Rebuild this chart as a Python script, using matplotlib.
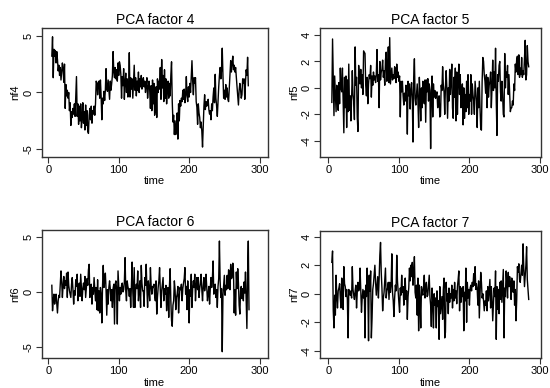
import matplotlib
matplotlib.use("Agg")
import numpy as np
import matplotlib.pyplot as plt

plt.rcParams['font.family'] = ['Liberation Sans', 'DejaVu Sans']
plt.rcParams['axes.unicode_minus'] = False

# series start at time 5, one value per period
nf4 = [3.2, 4.9, 1.3, 3.8, 3.2, 3.7, 2.6, 3.6, 2.9, 1.9,
       2.4, 1.5, 2.2, 1.1, 1.8, 2.6, 2.0, 0.9, 2.5, -1.4,
       0.7, -0.3, 0.2, -0.5, 0.0, -1.6, -0.9, -2.9, -1.7, -2.2,
       -1.4, -1.9, -1.0, -2.1, -0.3, 1.4, -2.1, -1.0, -2.8, -1.2,
       -2.5, -1.0, -3.1, -2.3, -0.9, -2.7, -1.7, -3.3, -1.1, -2.9,
       -1.6, -3.4, -3.6, -2.0, -1.4, -2.4, -1.2, -2.7, -1.6, -1.9,
       -1.2, -2.0, -1.0, 1.0, 0.8, -0.2, 0.9, 1.0, -0.5, 1.1,
       -0.3, -2.4, -0.5, -1.0, 0.1, -0.7, 0.2, 2.1, 0.3, 0.1,
       1.1, 0.3, -0.6, 1.0, 0.2, 0.8, 1.5, 3.6, 1.8, 1.3,
       2.2, 1.2, 2.0, 1.0, 2.6, 1.5, 2.7, 2.4, 1.6, -0.5,
       1.4, 0.6, 2.1, -0.6, 0.9, 1.7, 0.0, 1.2, -0.4, 0.5,
       3.5, -0.4, 1.3, 0.3, 1.2, -0.5, 1.0, 2.4, 0.2, 1.3,
       -0.3, 1.0, 0.2, 1.8, 0.0, 1.2, 0.5, 1.5, 0.3, 1.0,
       1.3, 0.5, 1.0, 0.0, 0.6, 1.3, -0.5, 0.4, 1.0, 0.2,
       -1.4, 0.6, -1.6, 1.1, -1.0, 0.8, -2.0, -1.5, 0.5, -2.2,
       1.2, 0.0, 1.0, 0.3, 2.2, -0.6, 2.9, 0.4, 1.5, -0.8,
       2.0, -0.5, 1.2, -1.0, 0.2, 1.0, -0.5, 0.8, -0.3, 1.5,
       2.7, -0.8, -2.6, -2.0, -3.7, -2.5, -3.7, -3.0, -1.8, -4.1,
       -1.0, -2.5, -0.7, -1.2, -0.5, -0.8, 0.2, -0.6, 0.3, -0.9,
       -0.2, 1.4, -0.3, -0.8, 0.5, -0.4, 0.8, 0.0, 1.4, 2.8,
       1.0, -0.2, 1.3, 0.8, 1.3, -0.8, -1.3, -2.8, -1.0, -1.8,
       -2.2, -3.1, -2.6, -3.4, -4.8, -3.0, -1.2, -0.2, -1.5, -0.8,
       -1.2, -1.0, -0.6, -1.5, -1.9, -1.6, -2.4, -1.0, -1.6, -0.4,
       0.4, -0.9, 1.6, -0.5, -1.2, -2.1, -0.8, 0.5, 1.5, 2.2,
       1.2, 2.0, 3.9, 1.5, -0.5, 0.2, -0.6, 0.7, -0.4, 0.4,
       -0.6, -0.8, 0.4, 1.5, 2.8, 1.8, 2.6, 3.2, 2.0, 2.4,
       1.8, 2.2, 1.3, 0.5, -0.3, -1.1, 0.2, 0.8, 0.3, -0.5,
       -0.2, 1.2, 0.8, 1.2, -0.6, 0.9, 2.0, 1.5, 3.1, 0.6]

nf5 = [-1.1, 3.7, 1.0, -2.1, 0.9, -0.5, -1.8, 0.2, -0.4, -1.7,
       0.4, -1.2, 1.5, 0.0, -0.3, 1.5, -1.0, -3.4, 0.8, -1.5,
       0.9, -3.0, 0.6, -1.8, 1.8, -1.7, -0.6, -2.5, -0.8, 1.3,
       -0.5, -1.0, -2.4, 3.1, 0.2, 0.8, -2.2, -3.3, 1.7, 0.8,
       0.3, 1.4, 0.0, 1.0, -0.5, 2.8, 2.7, 2.6, 0.2, -0.6,
       0.8, -1.2, 0.3, 1.0, 0.7, 1.7, -0.7, 0.9, 0.2, 1.2,
       0.6, 0.9, 0.4, 1.0, 2.9, 0.5, 1.0, -1.5, 2.0, 0.6,
       1.2, 1.4, 2.1, 0.8, 1.3, 0.2, 2.1, 2.7, 0.5, 1.2,
       3.1, 0.4, 3.8, 0.3, 0.9, 1.5, 0.6, 1.0, 0.7, 1.6,
       1.4, 0.4, 1.8, 0.8, 1.2, 0.5, 0.9, -2.2, 0.5, -0.3,
       0.5, -0.6, -1.3, -0.4, -1.0, 0.2, -0.8, -3.5, 0.5, -0.6,
       0.3, -1.6, -0.2, 0.4, -0.8, -4.1, 0.8, 2.2, -0.8, -1.3,
       -0.5, 0.3, -1.0, -3.0, 0.8, -0.5, -2.5, 0.0, -1.5, 0.5,
       -0.7, -1.2, 0.6, -2.6, 0.6, -0.3, 0.7, -1.0, 0.3, -0.2,
       -4.6, -0.4, 0.9, -2.2, 0.3, -0.7, -0.2, -0.8, -0.5, -0.3,
       -1.5, -1.2, -0.6, -2.2, -2.1, 0.2, -0.2, 1.6, 0.2, -0.3,
       -2.0, 0.1, 1.3, 0.0, -2.3, 0.0, -1.0, 1.4, -0.5, 0.5,
       1.8, -1.5, -2.3, 0.8, -0.7, 1.5, -2.5, 1.2, -2.0, 0.5,
       1.8, -0.5, 1.0, -1.5, -0.3, 0.3, -2.8, 0.0, -2.3, -0.5,
       -1.8, 0.5, -1.5, 1.0, -2.0, -0.5, -1.0, 1.0, -2.0, 0.3,
       -0.5, -1.0, -2.0, 0.5, -0.3, -1.0, -3.0, 0.0, -1.5, 0.5,
       -1.5, -3.1, -3.2, 0.5, 2.3, 2.0, 1.0, 0.5, -0.4, 1.0,
       -1.5, 0.8, -0.7, 0.2, 0.5, 1.2, -1.5, 0.0, 2.1, -0.2,
       1.2, 0.0, 3.0, -1.0, -3.6, 1.0, 0.5, 1.7, 2.0, -0.3,
       -1.0, 0.5, -0.5, -2.0, -2.2, 2.6, 0.0, 1.2, 0.8, 1.7,
       -0.5, 1.0, -0.5, -1.8, -1.5, -1.5, -1.0, -1.3, 0.3, -0.2,
       1.8, 1.2, 2.2, 2.4, 1.0, 2.5, 0.8, 1.5, 1.0, 2.3,
       0.8, 1.3, 1.0, 2.2, 3.6, 0.6, 1.0, 3.2, 2.0, 1.6]

nf6 = [0.6, -1.7, -0.8, -0.2, -1.1, -0.6, -0.2, -1.0, -1.9, -0.8,
       -0.3, -0.5, 0.7, 1.9, 0.9, -0.5, 0.6, 1.4, 0.3, 1.0,
       0.6, 1.7, -0.5, 1.8, 0.6, 0.1, -0.2, -0.5, 0.7, 1.3,
       0.2, -1.1, 0.1, -0.3, 1.1, 0.5, 1.6, -0.8, 0.2, 0.8,
       -0.4, 1.6, 0.4, -0.8, 0.3, 0.8, 0.2, 1.4, -0.5, 0.4,
       1.2, 0.6, 2.0, 2.5, -0.5, 0.3, 0.7, -1.1, 0.4, -0.2,
       1.3, 0.2, -0.8, 0.4, -1.6, 1.1, -1.7, 0.1, -1.9, 0.4,
       -0.2, -2.8, 0.5, 2.4, 0.4, 1.0, 1.7, 0.2, -2.1, 0.2,
       -1.1, 0.4, 1.0, 0.3, -0.8, 0.2, -1.4, 0.3, 0.7, -2.9,
       0.7, 1.0, 0.2, -2.9, 1.9, 0.5, -0.8, 0.4, -0.2, 0.6,
       0.8, 0.0, 0.2, 0.9, 3.1, 0.1, -0.8, 1.0, 0.5, 0.2,
       -0.4, 0.3, -1.4, 0.5, 2.7, 0.0, -1.4, 2.2, -1.4, 0.2,
       0.7, 0.3, 1.9, -0.8, 0.2, 1.0, -1.4, 2.4, 0.8, 0.1,
       0.1, -1.3, 1.3, 0.6, 2.5, 0.3, -1.4, 1.0, 0.2, -0.8,
       2.2, 0.6, -0.2, 0.5, 0.4, 0.7, -0.3, -0.8, 1.0, -2.0,
       -0.5, 0.4, 1.0, 2.2, 0.2, -1.4, 0.1, 0.7, 1.3, -0.8,
       0.3, -0.2, 0.6, -1.7, -0.3, 0.4, -2.3, 0.5, 2.1, -0.8,
       -2.6, -3.1, -1.2, -0.8, 1.0, 0.2, -1.6, -0.5, -0.2, 0.5,
       -1.9, -0.5, 0.4, 0.2, 0.7, -0.8, 0.3, 0.8, 1.2, 2.2,
       -0.2, 0.5, -1.6, 1.0, -0.6, -2.8, 0.2, -0.4, 1.6, -1.4,
       0.3, 1.0, 0.4, 1.6, -0.8, 0.5, 1.3, 0.2, 1.3, -0.5,
       0.3, 0.8, 1.6, 0.2, -0.8, 0.5, 1.3, 0.1, 0.6, 1.6,
       0.4, -0.8, -0.2, 0.5, -1.1, 0.3, 1.3, 0.4, 1.2, 2.8,
       -0.2, 0.3, 0.7, -0.5, 0.2, -1.4, 0.5, 1.2, 4.6, 1.0,
       -0.5, 0.3, -5.4, -0.3, 0.6, 1.5, -0.3, 0.6, 0.2, 1.5,
       0.3, 2.0, 1.8, 0.2, 2.5, 1.2, 1.3, 2.6, 1.8, -1.9,
       0.2, -2.1, 1.8, 0.3, 2.1, 0.8, -1.2, -2.0, 0.1, 0.5,
       -0.6, 0.3, -0.8, 0.9, -0.1, 1.8, -0.6, -3.3, 1.7, 4.6,
       -1.6]

nf7 = [2.2, 3.0, -1.2, -2.4, -0.1, -1.5, 1.3, -0.2, -1.0, 0.2,
       0.4, 0.7, -0.3, -1.0, 1.1, 0.5, -1.1, 1.9, 0.7, 0.5,
       -0.2, 0.3, -0.4, -3.1, 0.3, 0.0, -0.1, 0.2, -0.3, 1.9,
       0.3, -0.1, -0.4, 0.2, 0.6, -1.0, 0.1, 0.8, 0.2, 0.4,
       1.8, 0.2, -1.3, -0.3, 0.3, -0.3, 0.2, -3.1, 0.6, -0.2,
       1.8, 0.4, -3.3, 1.3, 0.2, 1.6, -3.1, -1.7, 0.3, 0.7,
       1.4, 2.0, 0.8, -0.1, 0.6, 1.2, -0.3, 1.0, 2.7, 3.6,
       1.5, 0.4, -1.2, -0.3, 0.1, 1.0, 1.8, -0.3, 0.2, 0.4,
       0.8, -0.4, 0.8, 0.1, 0.6, 2.8, 0.1, -0.5, -1.6, -0.3,
       0.6, 0.2, 2.7, 0.9, 0.1, -0.6, -1.3, 0.4, -0.1, 1.3,
       0.1, 0.5, -0.8, 0.3, 1.1, -0.4, 0.2, -1.8, -0.2, 0.4,
       1.8, 0.9, 2.0, 1.2, 2.2, 0.6, 1.5, 2.6, 0.1, -0.3,
       0.6, -1.5, 1.1, -2.6, 0.6, -0.5, -2.4, 0.5, 0.1, -0.1,
       0.5, 1.3, -0.3, 0.4, 0.8, -0.2, -0.1, 0.6, 1.3, -0.2,
       -0.8, -2.3, 0.4, -0.5, -2.4, 0.0, -0.8, -0.3, -2.4, 0.2,
       -0.9, -0.5, -3.2, 0.5, -1.4, -0.8, -0.2, -1.8, 0.3, 1.1,
       -3.1, -2.7, 0.8, -0.5, 0.0, -1.4, 0.4, -0.6, 0.0, -0.3,
       0.6, -1.0, 0.3, -0.5, 0.8, -0.3, 0.2, -0.7, 0.5, 1.0,
       1.6, -1.2, 0.5, -0.6, 0.4, -0.2, 0.5, -2.6, 0.1, -0.5,
       1.8, -2.0, 0.8, -0.3, 0.3, -0.8, 0.4, 0.6, 0.2, 0.8,
       0.5, 1.4, 0.6, 1.9, 0.3, 0.7, 0.3, -0.8, 0.9, -1.7,
       0.0, 1.5, 0.8, -0.3, 0.0, -0.5, -1.2, -0.5, -0.8, 0.2,
       -1.2, 0.5, -0.5, 0.3, 1.0, -1.0, 0.5, -0.3, -1.9, -0.8,
       0.4, -0.2, 1.6, -3.2, 0.5, -1.1, 0.3, -1.4, 0.8, -0.4,
       0.9, -0.6, 0.6, 1.7, -3.1, 0.4, -0.2, 1.6, 0.8, -0.3,
       1.5, 0.5, 1.2, 0.8, -0.4, 1.1, 0.5, 0.1, 0.9, -0.8,
       0.3, -1.9, -0.4, 1.9, 1.5, 2.1, 1.0, 0.8, 1.4, 2.0,
       1.3, 3.5, 1.8, 0.5, 1.2, 2.0, 3.3, 1.0, 0.3, -0.4]

titles = ['PCA factor 4', 'PCA factor 5', 'PCA factor 6', 'PCA factor 7']
ylabels = ['nf4', 'nf5', 'nf6', 'nf7']
yticks = [[-5, 0, 5], [-4, -2, 0, 2, 4], [-5, 0, 5], [-4, -2, 0, 2, 4]]
xticks = [0, 100, 200, 300]

fig = plt.figure(figsize=(5.5, 3.88), dpi=100)

rects = [[0.0758, 0.5961, 0.4115, 0.331],
         [0.5818, 0.5961, 0.4013, 0.331],
         [0.0758, 0.0773, 0.4115, 0.330],
         [0.5818, 0.0773, 0.4013, 0.328]]
xlims = [(-9.4, 312), (-11.8, 301), (-9.4, 312), (-11.8, 301)]
ylims = [(-5.65, 5.65), (-5.21, 4.51), (-5.97, 5.6), (-4.51, 4.42)]

for i, y in enumerate([nf4, nf5, nf6, nf7]):
    ax = fig.add_axes(rects[i])
    t = np.arange(5, 5 + len(y))
    ax.plot(t, y, color='black', lw=1.0)
    ax.set_xlim(xlims[i])
    ax.set_ylim(ylims[i])
    ax.set_xticks(xticks)
    ax.set_yticks(yticks[i])
    ax.tick_params(axis='both', labelsize=8, length=4, width=0.8, pad=2, color='#333333')
    for lab in ax.get_yticklabels():
        lab.set_rotation(90)
        lab.set_va('center')
    ax.set_title(titles[i], fontsize=10, pad=3)
    ax.set_xlabel('time', fontsize=8, labelpad=1)
    ax.set_ylabel(ylabels[i], fontsize=8, labelpad=2)
    for s in ax.spines.values():
        s.set_color('#333333')
        s.set_linewidth(1.0)

fig.savefig('out.png', dpi=100)
